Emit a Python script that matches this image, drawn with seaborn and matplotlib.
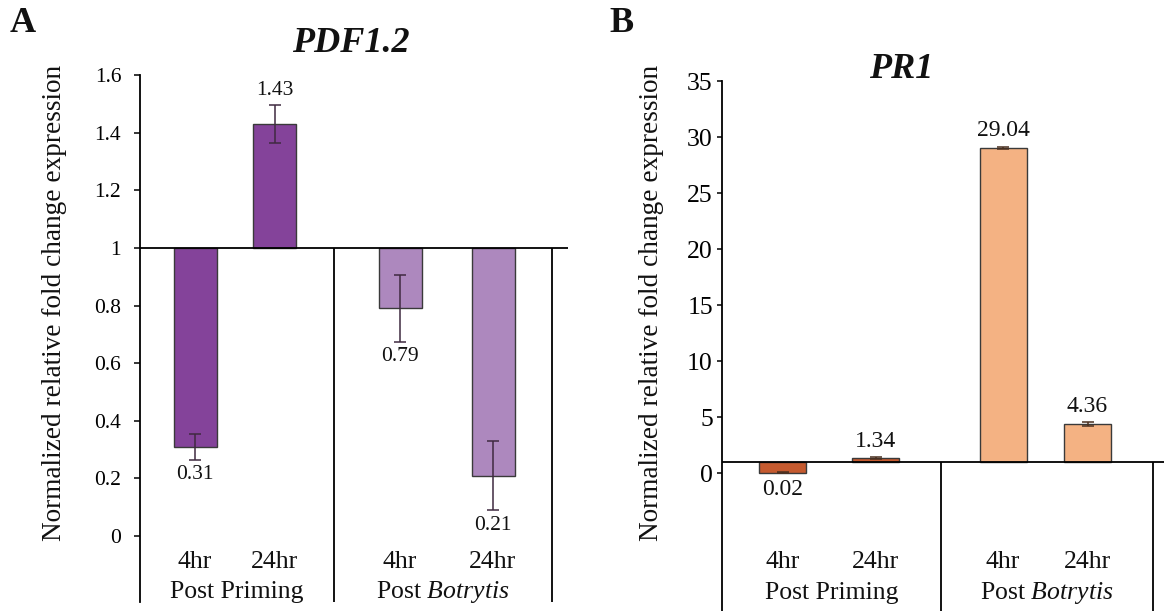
import numpy as np
import pandas as pd
import matplotlib
matplotlib.use("Agg")
import matplotlib.pyplot as plt
import seaborn as sns

# ---------------- data ----------------
times = ["4hr", "24hr", "4hr", "24hr"]
groups = ["Post Priming", "Post Priming", "Post Botrytis", "Post Botrytis"]
group_labels = ["Post Priming", r"Post $\mathit{Botrytis}$"]

pdf_values = [0.31, 1.43, 0.79, 0.21]
pdf_errors = [0.045, 0.065, 0.115, 0.12]
pdf_yticks = [0, 0.2, 0.4, 0.6, 0.8, 1, 1.2, 1.4, 1.6]

pr1_values = [0.02, 1.34, 29.04, 4.36]
pr1_errors = [0.06, 0.08, 0.08, 0.18]
pr1_yticks = [0, 5, 10, 15, 20, 25, 30, 35]

baseline = 1.0

# ---------------- style ----------------
sns.set_theme(style="ticks")
plt.rcParams["font.family"] = ["Liberation Serif", "DejaVu Serif"]
plt.rcParams["mathtext.fontset"] = "custom"
plt.rcParams["mathtext.rm"] = "Liberation Serif"
plt.rcParams["mathtext.it"] = "Liberation Serif:italic"
plt.rcParams["mathtext.bf"] = "Liberation Serif:bold"

W, H = 1164, 611
fig = plt.figure(figsize=(W / 100, H / 100), dpi=100)


def px_text(x, y, s, **kw):
    fig.text(x / W, 1 - y / H, s, **kw)


def panel(rect, ylim, xpos, bar_w, seps, line_end, values, errors, yticks,
          colors, ecolor, tick_len, tick_pad, tick_size, val_size, cat_y, grp_y):
    left, top, right, bottom = rect
    ax = fig.add_axes([left / W, 1 - bottom / H, (right - left) / W, (bottom - top) / H])
    xmax = (right - left) / 100.0
    df = pd.DataFrame({
        "pos": xpos,
        "rel": np.array(values) - baseline,
        "group": groups,
    })
    spacing = np.min(np.diff(np.sort(xpos)))
    sns.barplot(data=df, x="pos", y="rel", hue="group",
                palette={"Post Priming": colors[0], "Post Botrytis": colors[1]},
                native_scale=True, dodge=False, legend=False, errorbar=None,
                saturation=1, width=bar_w / spacing, bottom=baseline,
                edgecolor="#3a3a3a", linewidth=1.0, ax=ax)
    ax.errorbar(xpos, values, yerr=errors, fmt="none", ecolor=ecolor,
                elinewidth=1.1, capsize=4, capthick=1.1, zorder=4)
    for x, v, e in zip(xpos, values, errors):
        if v >= baseline:
            ax.annotate(f"{v:.2f}", (x, v + e), xytext=(0, 4), textcoords="offset points",
                        ha="center", va="bottom", fontsize=val_size, color="#111111")
        else:
            ax.annotate(f"{v:.2f}", (x, v - e), xytext=(0, -4), textcoords="offset points",
                        ha="center", va="top", fontsize=val_size, color="#111111")
    ax.set_xlim(0, xmax)
    ax.set_ylim(*ylim)
    ax.axhline(baseline, xmin=0, xmax=line_end / xmax, color="black", lw=1.3, zorder=5)
    ax.vlines(seps, ylim[0], baseline, color="black", lw=1.3)
    for sp in ["top", "right", "bottom"]:
        ax.spines[sp].set_visible(False)
    ax.spines["left"].set_linewidth(1.3)
    ax.spines["left"].set_color("black")
    ax.set_xticks([])
    ax.set_yticks(yticks)
    ax.set_yticklabels([f"{t:g}" for t in yticks])
    ax.tick_params(axis="y", direction="out", length=tick_len, width=1.1,
                   pad=tick_pad, labelsize=tick_size, colors="black")
    ax.set_xlabel("")
    ax.set_ylabel("")
    for x, t in zip(xpos, times):
        ax.text(x, cat_y, t, ha="center", va="center", fontsize=18.5, color="#111111")
    edges = [0.0] + list(seps)
    for i, g in enumerate(group_labels):
        gx = (edges[i] + edges[i + 1]) / 2
        ax.text(gx, grp_y, g, ha="center", va="center", fontsize=18.5, color="#111111")
    return ax


# Panel A
panel(rect=(140, 75, 568, 602), ylim=(-0.229, 1.6),
      xpos=[0.55, 1.345, 2.60, 3.53], bar_w=0.43, seps=[1.94, 4.12], line_end=4.28,
      values=pdf_values, errors=pdf_errors, yticks=pdf_yticks,
      colors=["#84439A", "#AD88BE"], ecolor="#3f2a40",
      tick_len=4.5, tick_pad=9, tick_size=15.5, val_size=15.5,
      cat_y=-0.09, grp_y=-0.195)

# Panel B
panel(rect=(722, 81, 1164, 611), ylim=(-12.32, 35),
      xpos=[0.605, 1.535, 2.81, 3.655], bar_w=0.47, seps=[2.19, 4.31], line_end=4.42,
      values=pr1_values, errors=pr1_errors, yticks=pr1_yticks,
      colors=["#C55A2F", "#F4B283"], ecolor="#4a3020",
      tick_len=3.6, tick_pad=3, tick_size=18.5, val_size=17,
      cat_y=-7.95, grp_y=-10.7)

# labels & titles
label = "Normalized relative fold change expression"
px_text(55, 303, label, rotation=90, ha="center", va="center", fontsize=19.6, color="#111111")
px_text(652, 303, label, rotation=90, ha="center", va="center", fontsize=19.6, color="#111111")
px_text(351, 43, "PDF1.2", ha="center", va="center", fontsize=26,
        fontweight="bold", fontstyle="italic", color="#111111")
px_text(901, 70, "PR1", ha="center", va="center", fontsize=26,
        fontweight="bold", fontstyle="italic", color="#111111")
px_text(23, 23, "A", ha="center", va="center", fontsize=26, fontweight="bold", color="#111111")
px_text(622, 23, "B", ha="center", va="center", fontsize=26, fontweight="bold", color="#111111")

fig.savefig("out.png", dpi=100)
